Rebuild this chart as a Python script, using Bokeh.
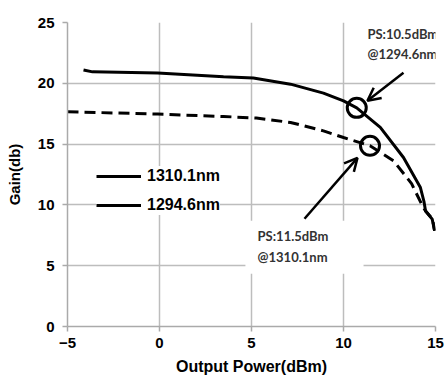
from bokeh.plotting import figure
from bokeh.models import (Range1d, FixedTicker, Legend, LegendItem, Label,
                          BoxAnnotation, Arrow, OpenHead)
from bokeh.embed import file_html
from bokeh.resources import INLINE

# ---- data ----
x_1294 = [-4.13, -3.64, -0.1, 3.48, 5.1, 7.12, 8.91, 10.0, 10.72, 12.0, 13.26, 14.18, 14.37, 14.46, 14.82, 14.95]
y_1294 = [21.1, 20.94, 20.84, 20.53, 20.43, 19.93, 19.19, 18.56, 17.98, 16.37, 13.9, 11.43, 10.3, 9.5, 8.83, 7.87]

x_1310 = [-5.0, -0.1, 3.48, 5.27, 7.12, 8.91, 10.0, 11.44, 12.72, 13.7, 14.29, 14.46, 14.84, 14.95]
y_1310 = [17.66, 17.47, 17.27, 17.14, 16.78, 16.09, 15.54, 14.86, 13.63, 11.75, 9.93, 9.5, 8.83, 7.87]

marker_x = [10.72, 11.44]
marker_y = [17.98, 14.86]

x_ticks = [-5, 0, 5, 10, 15]
x_tick_labels = ["\u22125", "0", "5", "10", "15"]
y_ticks = [0, 5, 10, 15, 20, 25]

legend_labels = ["1310.1nm", "1294.6nm"]
note1 = ["PS:10.5dBm", "@1294.6nm"]
note2 = ["PS:11.5dBm", "@1310.1nm"]

TICK_FONT = "Liberation Sans"
NOTE_FONT = "Lato"

p = figure(width=446, height=381, output_backend="svg", toolbar_location=None,
           x_range=Range1d(-5, 15), y_range=Range1d(0, 25),
           min_border_left=67, min_border_right=11, min_border_top=22,
           min_border_bottom=55)
p.outline_line_color = None
p.background_fill_color = "white"
p.border_fill_color = "white"

grid_color = "#bdbdbd"
for g in (p.xgrid, p.ygrid):
    g.grid_line_color = grid_color
    g.grid_line_width = 1.5
p.xgrid.ticker = FixedTicker(ticks=x_ticks)
p.ygrid.ticker = FixedTicker(ticks=y_ticks)

for ax in (p.xaxis[0], p.yaxis[0]):
    ax.axis_line_color = "#aaaaaa"
    ax.axis_line_width = 1.5
    ax.major_tick_line_color = "#aaaaaa"
    ax.major_tick_line_width = 1.5
    ax.major_tick_out = 5
    ax.major_tick_in = 0
    ax.minor_tick_line_color = None
    ax.major_label_text_font = TICK_FONT
    ax.major_label_text_font_style = "bold"
    ax.major_label_text_font_size = "15px"
    ax.major_label_text_color = "black"
    ax.axis_label_text_font = TICK_FONT
    ax.axis_label_text_font_style = "bold"
    ax.axis_label_text_color = "black"

p.xaxis[0].ticker = FixedTicker(ticks=x_ticks)
p.yaxis[0].ticker = FixedTicker(ticks=y_ticks)
p.xaxis[0].major_label_overrides = {t: l for t, l in zip(x_ticks, x_tick_labels)}
p.xaxis[0].axis_label = "Output Power(dBm)"
p.yaxis[0].axis_label = "Gain(db)"
p.xaxis[0].axis_label_text_font_size = "16px"
p.yaxis[0].axis_label_text_font_size = "15px"
p.xaxis[0].major_label_standoff = 6
p.yaxis[0].major_label_standoff = 8
p.xaxis[0].axis_label_standoff = 7
p.yaxis[0].axis_label_standoff = 12

# white boxes behind annotation texts
p.add_layout(BoxAnnotation(left=10.65, right=15.8, bottom=20.86, top=27,
                           fill_color="white", fill_alpha=1.0, line_color=None,
                           level="underlay"))
p.add_layout(BoxAnnotation(left=4.67, right=11.09, bottom=4.33, top=8.69,
                           fill_color="white", fill_alpha=1.0, line_color=None,
                           level="underlay"))

r1310 = p.line(x_1310, y_1310, line_color="black", line_width=3, line_dash="11 6")
r1294 = p.line(x_1294, y_1294, line_color="black", line_width=3)

p.scatter(marker_x, marker_y, marker="circle", size=19, fill_color=None,
          line_color="black", line_width=3)

# arrows
p.add_layout(Arrow(x_start=13.26, y_start=20.86, x_end=11.30, y_end=18.56,
                   line_width=2.5, line_color="black",
                   end=OpenHead(size=13, line_width=2.5, line_color="black")))
p.add_layout(Arrow(x_start=7.88, y_start=8.86, x_end=10.76, y_end=13.87,
                   line_width=2.5, line_color="black",
                   end=OpenHead(size=13, line_width=2.5, line_color="black")))

def note(texts, x, y0, y1):
    for t, y in zip(texts, (y0, y1)):
        p.add_layout(Label(x=x, y=y, text=t, text_font=NOTE_FONT,
                           text_font_style="bold", text_font_size="13px",
                           text_color="#333333", text_align="left",
                           text_baseline="middle"))

note(note1, 11.30, 24.07, 22.43)
note(note2, 5.33, 7.44, 5.75)

legend = Legend(items=[LegendItem(label=legend_labels[0], renderers=[r1294]),
                       LegendItem(label=legend_labels[1], renderers=[r1294])],
                location=(29, 111), glyph_width=45, glyph_height=20,
                label_height=20, spacing=9, padding=5, label_standoff=6,
                border_line_color=None, background_fill_color="white",
                background_fill_alpha=1.0, margin=0,
                label_text_font=TICK_FONT, label_text_font_style="bold",
                label_text_font_size="16px", label_text_color="black")
p.add_layout(legend)

open("out.html", "w").write(file_html(p, INLINE))
